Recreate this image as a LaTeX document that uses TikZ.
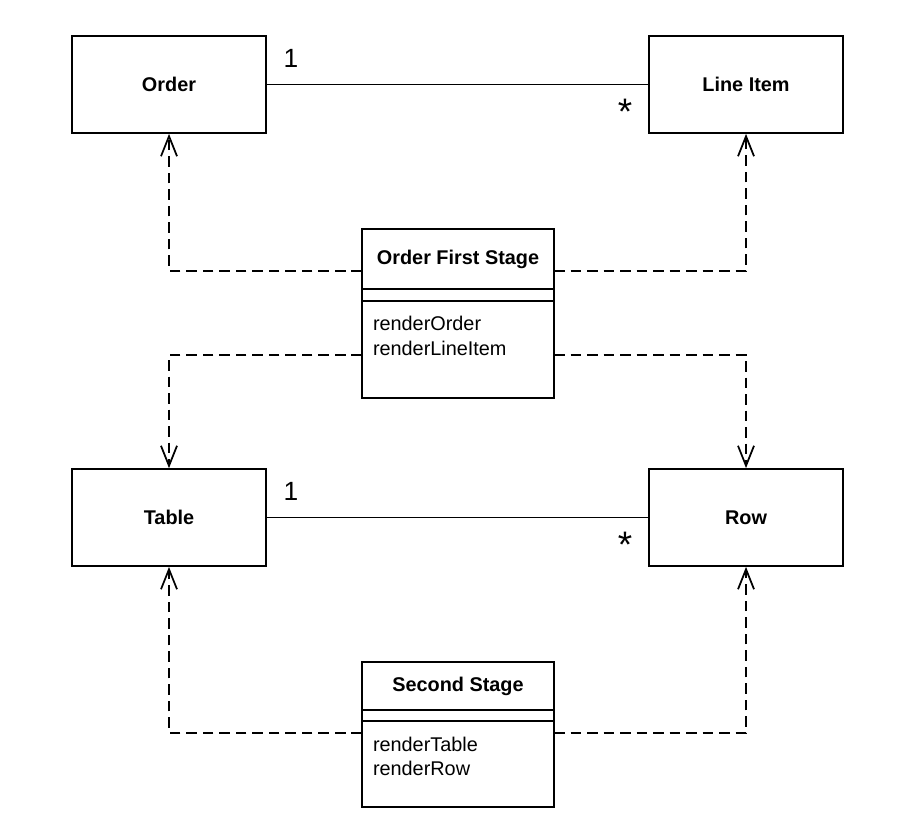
\documentclass[tikz,border=0pt]{standalone}
\usepackage{fontspec}
\setmainfont{Liberation Sans}
\usepackage{tikz}
\usetikzlibrary{arrows.meta,positioning}

\tikzset{
  entity/.style = {draw, line width = 1pt, minimum width = 3.88cm, minimum height = 1.94cm, font = \fontsize{11.3}{13}\selectfont\bfseries},
  head/.style = {draw, line width = 1pt, outer sep = 0pt, minimum width = 3.84cm, font = \fontsize{11.3}{13}\selectfont\bfseries},
  attr/.style = {draw, line width = 1pt, outer sep = 0pt, minimum width = 3.84cm, inner sep = 0pt},
  ops/.style = {draw, line width = 1pt, outer sep = 0pt, text width = 3.4cm, align = left, inner xsep = 0.22cm, inner ysep = 0.3cm, text height = 0.3cm, font = \fontsize{11.3}{14.2}\selectfont},
  dep/.style = {dashed, dash pattern = on 6pt off 3.4pt, line width = 1pt, -{Straight Barb[length = 0.4cm, width = 0.32cm, line width = 1pt]}},
  assoc/.style = {line width = 1pt},
  one/.style = {inner sep = 0pt, font = \fontsize{15}{17}\selectfont},
  many/.style = {inner sep = 0pt, font = \fontsize{21}{23}\selectfont}
}

\begin{document}
\begin{tikzpicture}[x = 0.02cm, y = -0.02cm]
    \useasboundingbox (0,0) rectangle (913,836);
    % domain classes
    \node at (169,84.5) [entity] (order) {Order};
    \node at (746,84.5) [entity] (item) {Line Item};
    \node at (169,517.5) [entity] (table) {Table};
    \node at (746,517.5) [entity] (row) {Row};
    % first stage
    \node at (458,259) [head, minimum height = 1.2cm] (ofsHead) {Order First Stage};
    \node [attr, below = 0pt of ofsHead, minimum height = 0.24cm] (ofsAttr) {};
    \node [ops, below = 0pt of ofsAttr, text depth = 1.04cm] (ofsOps) {renderOrder\\renderLineItem};
    % second stage
    \node at (458,686) [head, minimum height = 0.96cm] (ssHead) {Second Stage};
    \node [attr, below = 0pt of ssHead, minimum height = 0.22cm] (ssAttr) {};
    \node [ops, below = 0pt of ssAttr, text depth = 0.82cm] (ssOps) {renderTable\\renderRow};
    % associations
    \draw[assoc] (order.east) -- (item.west)
        node[one, pos = 0, anchor = south west, xshift = 0.32cm, yshift = 0.32cm] {1}
        node[many, pos = 1, anchor = base east, xshift = -0.3cm, yshift = -0.8cm] {*};
    \draw[assoc] (table.east) -- (row.west)
        node[one, pos = 0, anchor = south west, xshift = 0.32cm, yshift = 0.32cm] {1}
        node[many, pos = 1, anchor = base east, xshift = -0.3cm, yshift = -0.8cm] {*};
    % dependencies
    \draw[dep] ([yshift = -0.24cm]ofsHead.west) -| (order.south);
    \draw[dep] ([yshift = -0.24cm]ofsHead.east) -| (item.south);
    \draw[dep] ([yshift = -1.08cm]ofsOps.north west) -| (table.north);
    \draw[dep] ([yshift = -1.08cm]ofsOps.north east) -| (row.north);
    \draw[dep] ([yshift = -0.24cm]ssOps.north west) -| (table.south);
    \draw[dep] ([yshift = -0.24cm]ssOps.north east) -| (row.south);
\end{tikzpicture}
\end{document}
